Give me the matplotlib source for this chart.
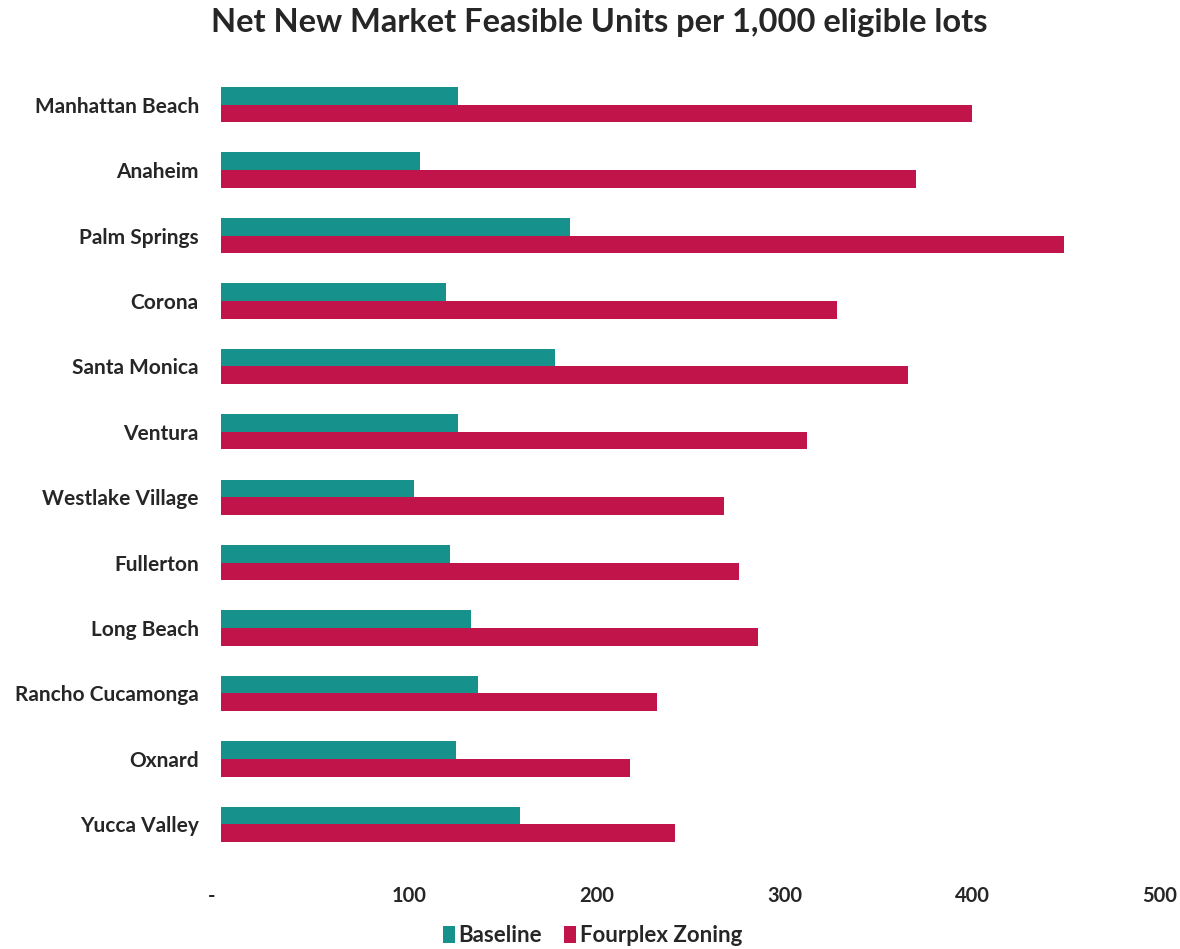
import matplotlib
matplotlib.use("Agg")
import matplotlib.pyplot as plt
import numpy as np

cities = ["Manhattan Beach", "Anaheim", "Palm Springs", "Corona", "Santa Monica",
          "Ventura", "Westlake Village", "Fullerton", "Long Beach",
          "Rancho Cucamonga", "Oxnard", "Yucca Valley"]
baseline = [126, 106, 186, 120, 178, 126, 103, 122, 133, 137, 125, 159]
fourplex = [400, 370, 449, 328, 366, 312, 268, 276, 286, 232, 218, 242]
xticks = [0, 100, 200, 300, 400, 500]
xticklabels = ["-    ", "100", "200", "300", "400", "500"]

teal = "#17918c"
crimson = "#c0144a"
txt = "#262626"

plt.rcParams['font.family'] = ['Lato', 'DejaVu Sans']

fig = plt.figure(figsize=(11.8, 9.49), dpi=100)
ax = fig.add_axes([221/1180, 1-857/949, (1160-221)/1180, (857-72)/949])

y = np.arange(len(cities))
h = 0.27
ax.barh(y - h/2, baseline, height=h, color=teal, label="Baseline")
ax.barh(y + h/2, fourplex, height=h, color=crimson, label="Fourplex Zoning")

ax.set_xlim(0, 500)
ax.set_ylim(len(cities) - 0.5, -0.5)
ax.set_yticks(y)
ax.set_yticklabels(cities, fontsize=15, fontweight='bold', color=txt)
ax.set_xticks(xticks)
ax.set_xticklabels(xticklabels, fontsize=14.5, fontweight='bold', color=txt)
ax.tick_params(axis='y', length=0, pad=16)
ax.tick_params(axis='x', length=0, pad=21)
for s in ax.spines.values():
    s.set_visible(False)

fig.text(0.508, 0.976, "Net New Market Feasible Units per 1,000 eligible lots",
         ha='center', va='center', fontsize=23.5, fontweight='bold', color=txt)

fig.legend(loc='center', bbox_to_anchor=(0.502, 0.014), ncol=2, frameon=False,
           prop={'size': 16, 'weight': 'bold'}, handlelength=0.55, handleheight=0.75,
           handletextpad=0.15, columnspacing=1.0, labelcolor=txt)

fig.savefig("out.png", dpi=100)
